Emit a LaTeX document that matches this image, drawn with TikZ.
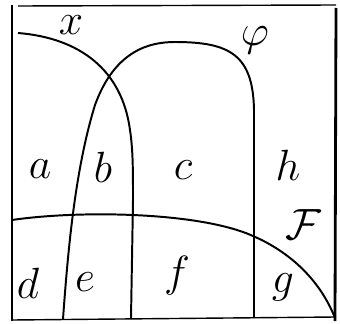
\documentclass[tikz,border=0pt]{standalone}
\usepackage{amsmath}
\usepackage{amssymb}
\usepackage{graphicx}
\usepackage{tikz}
\usepackage{xcolor}

\newcommand{\handlbl}[1]{\scalebox{1.25}{$#1$}}

\tikzset{
    curve/.style={line width=1.4pt},
    side/.style={line width=2pt},
    lbl/.style={font=\Huge, inner sep=0pt}
}

\begin{document}
\begin{tikzpicture}[x=0.25mm,y=-0.25mm]
    \useasboundingbox (0,0) rectangle (340,324);
    % frame
    \draw [side] (12,5)--(12,321);
    \draw [side] (336,8)--(335,321);
    \draw [line width=1pt] (18,6)--(336,5);
    \draw [line width=1pt] (12,320)--(336,317);
    % curve x
    \draw [curve] (18,33) .. controls (80,38) and (122,70) .. (130,130)
        .. controls (133,150) and (133,170) .. (133,200) -- (131,318);
    % curve phi
    \draw [curve] (63,319) .. controls (68,250) and (75,170) .. (95,105)
        .. controls (115,50) and (150,42) .. (175,42)
        .. controls (230,42) and (253,55) .. (254,110) -- (254,318);
    % curve F
    \draw [curve] (12,220) .. controls (80,210) and (200,212) .. (253,236)
        .. controls (290,252) and (320,280) .. (335,318);
    % labels
    \node [lbl] (lx) at (71,25) {\handlbl{x}};
    \node [lbl] (lphi) at (255,40) {\handlbl{\varphi}};
    \node [lbl] (lF) at (303,225) {\handlbl{\mathcal{F}}};
    \node [lbl] (la) at (40,169) {\handlbl{a}};
    \node [lbl] (lb) at (103,167) {\handlbl{b}};
    \node [lbl] (lc) at (183,170) {\handlbl{c}};
    \node [lbl] (lh) at (288,165) {\handlbl{h}};
    \node [lbl] (ld) at (28,283) {\handlbl{d}};
    \node [lbl] (le) at (85,282) {\handlbl{e}};
    \node [lbl] (lf) at (177,276) {\handlbl{f}};
    \node [lbl] (lg) at (283,287) {\handlbl{g}};
\end{tikzpicture}
\end{document}
